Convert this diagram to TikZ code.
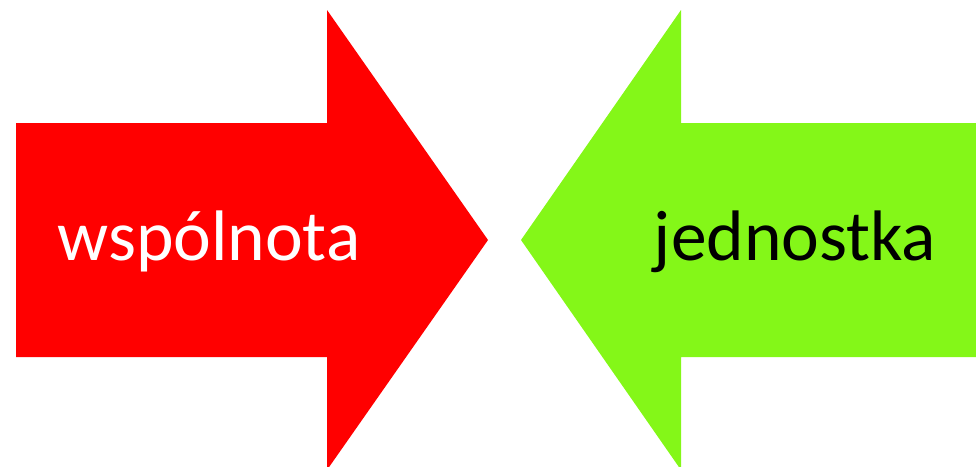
\documentclass[tikz,border=0pt]{standalone}
\usepackage{fontspec}
\setmainfont{Carlito}
\definecolor{arrowred}{RGB}{255,0,0}
\definecolor{arrowgreen}{RGB}{132,247,24}

\begin{document}
\begin{tikzpicture}[x=1pt, y=-1pt,
  label/.style={anchor=base, inner sep=0pt, font=\fontsize{71.5}{86}\selectfont}]
\useasboundingbox (0,0) rectangle (976,466);
\fill[arrowred] (16,123) -- (327,123) -- (327,10) -- (488,240) -- (327,470) -- (327,357) -- (16,357) -- cycle;
\fill[arrowgreen] (980,123) -- (681,123) -- (681,10) -- (521,240) -- (681,470) -- (681,357) -- (980,357) -- cycle;
\node[label, text=white] (wsp) at (209,260) {wspólnota};
\node[label, text=black] (jed) at (795,260) {jednostka};
\end{tikzpicture}
\end{document}
